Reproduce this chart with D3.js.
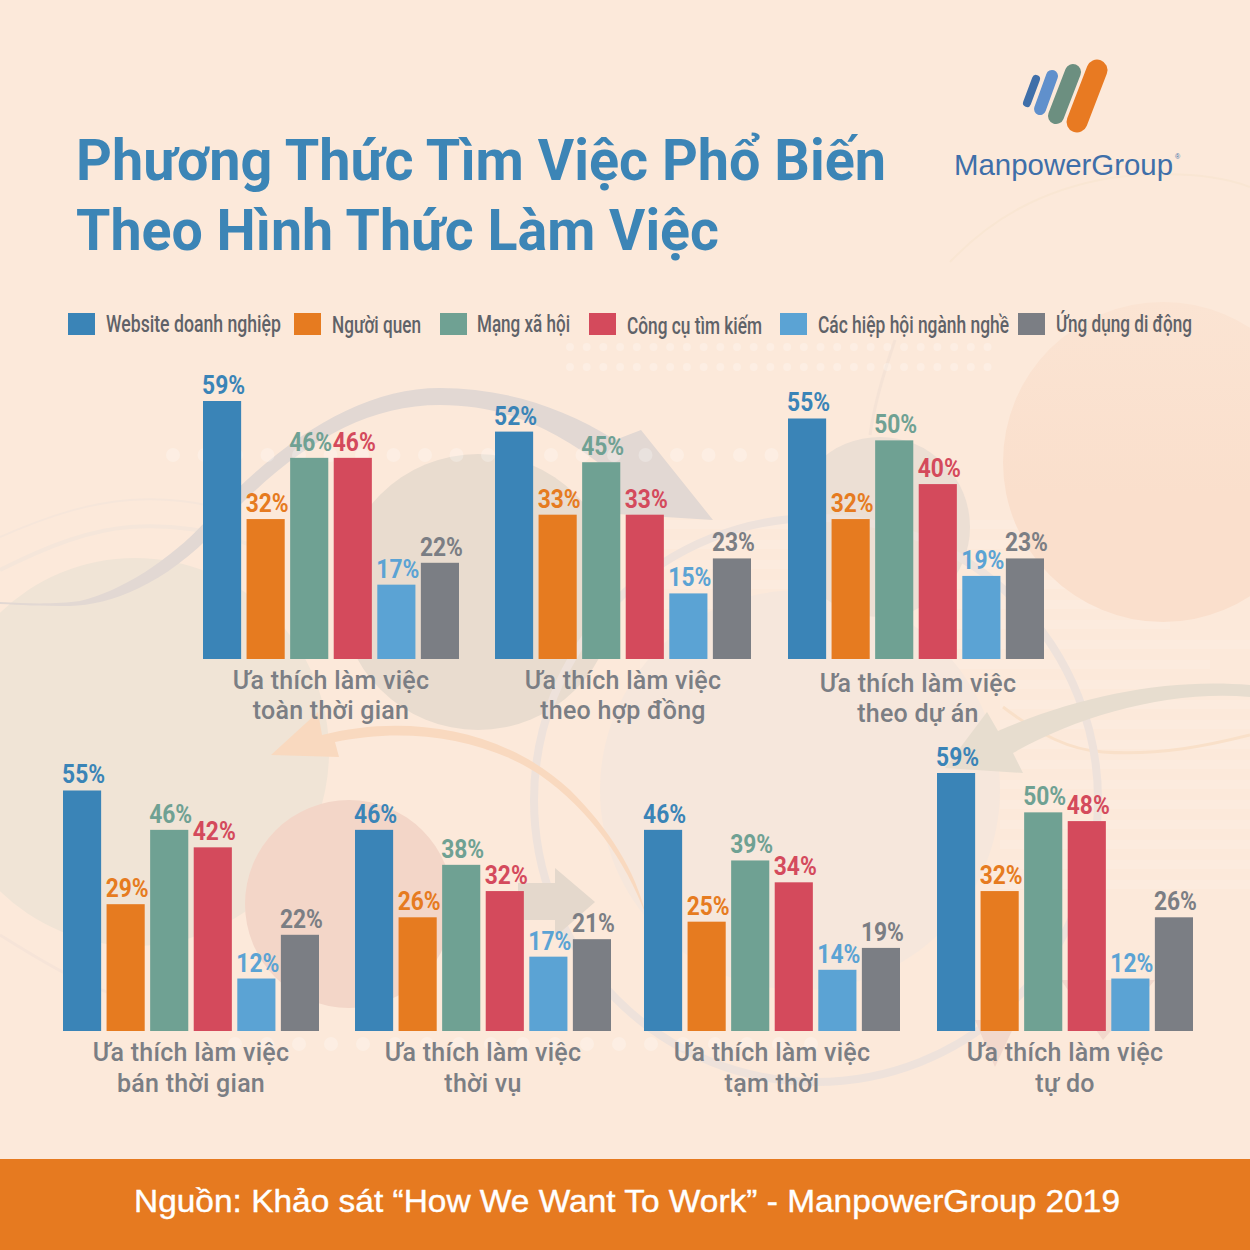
<!DOCTYPE html>
<html>
<head>
<meta charset="utf-8">
<script src="https://cdn.jsdelivr.net/npm/d3@7"></script>
<style>
  html, body { margin: 0; padding: 0; background: #fce9da; }
  svg { display: block; }
</style>
</head>
<body>
<div id="chart"></div>
<script>
var width = 1250
var height = 1250

var seriesNames = ['Website doanh nghiệp', 'Người quen', 'Mạng xã hội', 'Công cụ tìm kiếm', 'Các hiệp hội ngành nghề', 'Ứng dụng di động']
var seriesColors = ['#3a84b7', '#e67b20', '#6fa193', '#d44a5c', '#5ba3d4', '#7b7e84']

var fullTime = [59, 32, 46, 46, 17, 22]
var contract = [52, 33, 45, 33, 15, 23]
var project = [55, 32, 50, 40, 19, 23]
var partTime = [55, 29, 46, 42, 12, 22]
var seasonal = [46, 26, 38, 32, 17, 21]
var temporary = [46, 25, 39, 34, 14, 19]
var freelance = [59, 32, 50, 48, 12, 26]

var panelValues = [fullTime, contract, project, partTime, seasonal, temporary, freelance]
var panelFirstLine = 'Ưa thích làm việc'
var panelSecondLine = ['toàn thời gian', 'theo hợp đồng', 'theo dự án', 'bán thời gian', 'thời vụ', 'tạm thời', 'tự do']

// where each small chart sits
var panelLeft = [203, 495, 788, 63, 355, 644, 937]
var panelBase = [659, 659, 659, 1031, 1031, 1031, 1031]
var labelLineOne = [689, 689, 692, 1061, 1061, 1061, 1061]
var labelLineTwo = [719, 719, 722, 1092, 1092, 1092, 1092]
var labelShift = [0, 0, 2, 0, 0, 0, 0]

var legendBoxX = [68, 294, 440, 589, 780, 1018]
var legendTextX = [106, 332, 477, 627, 818, 1056]
var legendTextW = [175, 89, 93, 135, 191, 136]
var legendTextY = [332, 333, 332, 334, 333, 332]

var panelWidth = 256
var unitHeight = 258 / 59

var svg = d3.select('#chart')
  .append('svg')
  .attr('width', width)
  .attr('height', height)

var defs = svg.append('defs')
var sun = defs.append('linearGradient')
  .attr('id', 'sun')
  .attr('x1', 0).attr('y1', 0).attr('x2', 0).attr('y2', 1)
sun.append('stop').attr('offset', '0%').attr('stop-color', '#fbe4d3')
sun.append('stop').attr('offset', '60%').attr('stop-color', '#fadfcc')

svg.append('rect')
  .attr('width', width)
  .attr('height', height)
  .attr('fill', '#fce9da')

// background decoration
var deco = svg.append('g')

function circle(cx, cy, r, fill) {
  deco.append('circle').attr('cx', cx).attr('cy', cy).attr('r', r).attr('fill', fill)
}
function blob(d, fill) {
  deco.append('path').attr('d', d).attr('fill', fill)
}
function thread(d, color, w) {
  deco.append('path').attr('d', d).attr('fill', 'none').attr('stroke', color).attr('stroke-width', w)
}

// stripes go under the circles
d3.range(520, 900, 20).forEach(function(y, i) {
  deco.append('rect')
    .attr('x', y < 700 ? 640 : 1000)
    .attr('y', y)
    .attr('width', 610 - (i % 3) * 40)
    .attr('height', 9)
    .attr('fill', '#fff')
    .attr('opacity', 0.12)
})

circle(1163, 462, 160, 'url(#sun)')
circle(135, 752, 194, '#f0e4d6')
circle(800, 790, 200, '#f6e7dc')
circle(478, 592, 138, '#e9dccf')
circle(880, 527, 90, '#ecdfd4')
circle(349, 904, 104, '#f3d6c8')

thread('M0,537 C50,515 90,503 130,500 C160,498 185,500 210,506', '#f6e6da', 2)
thread('M0,570 C50,545 90,530 130,527 C170,524 215,530 250,545', '#f5e6da', 4)
thread('M0,935 C40,960 80,985 130,1000', '#f6e4d8', 3)
thread('M1003,707 C1040,735 1070,750 1103,752 C1160,756 1210,745 1250,735', '#f9e0c9', 3)
thread('M950,262 C990,220 1040,190 1110,178 C1160,172 1210,172 1250,187', '#f9e6d3', 2)
thread('M895,340 C885,370 875,400 870,435', '#f5e3d6', 3)

deco.append('circle')
  .attr('cx', 816).attr('cy', 800).attr('r', 282)
  .attr('fill', 'none').attr('stroke', '#eee2db').attr('stroke-width', 8)

// swoosh with arrow head, grey
blob('M0,602 C30,604 60,604 80,601 C120,592 170,560 205,522 C280,440 360,388 440,388 C500,388 560,405 615,440 L641,430 L713,520 L585,512 L608,470 C550,425 500,405 440,405 C360,405 290,450 218,528 C165,585 110,605 70,606 C40,606 20,605 0,604 Z', '#e2d8d3')
// orange arrow
blob('M271,755 L318,712 L322,735 C400,715 500,725 570,790 C610,830 635,870 646,915 C625,860 590,810 540,775 C480,735 400,728 335,742 L339,757 Z', '#f9d9bf')
// arrow coming from the right edge
blob('M1250,685 C1170,678 1080,695 998,731 L987,712 L945,768 L1023,773 L1013,753 C1080,715 1170,690 1250,697 Z', '#e7ddcf')
// block arrow
blob('M518,883 L555,883 L555,868 L595,902 L555,937 L555,920 L518,920 Z', '#e4d8cc')
// small pink arrow heads under the last chart
blob('M975,1020 L1017,1020 L995,1067 Z', '#f2d8cc')
blob('M1061,980 L1155,980 L1103,1040 Z', '#f2d8cc')

// dots
function dots(xs, y, r, op) {
  xs.forEach(function(x) {
    deco.append('circle').attr('cx', x).attr('cy', y).attr('r', r).attr('fill', '#fff').attr('opacity', op)
  })
}
dots(d3.range(173, 780, 31.5), 455, 7, 0.25)
dots(d3.range(235, 830, 32), 1044, 7, 0.25)
dots(d3.range(570, 990, 16.7), 347, 4, 0.25)
dots(d3.range(570, 990, 16.7), 367, 4, 0.25)

// title
var titleFont = 'Roboto, "Noto Sans", sans-serif'
svg.append('text')
  .attr('x', 76).attr('y', 180)
  .attr('textLength', 810).attr('lengthAdjust', 'spacingAndGlyphs')
  .attr('font-family', titleFont).attr('font-weight', 700).attr('font-size', 58)
  .attr('fill', '#3c85b6')
  .text('Phương Thức Tìm Việc Phổ Biến')
svg.append('text')
  .attr('x', 76).attr('y', 250)
  .attr('textLength', 643).attr('lengthAdjust', 'spacingAndGlyphs')
  .attr('font-family', titleFont).attr('font-weight', 700).attr('font-size', 58)
  .attr('fill', '#3c85b6')
  .text('Theo Hình Thức Làm Việc')

// logo
var logo = svg.append('g').attr('fill', 'none').attr('stroke-linecap', 'round')
logo.append('line').attr('x1', 1036).attr('y1', 79).attr('x2', 1027).attr('y2', 103).attr('stroke', '#3f6fa9').attr('stroke-width', 8)
logo.append('line').attr('x1', 1052).attr('y1', 76).attr('x2', 1040).attr('y2', 109).attr('stroke', '#6090cc').attr('stroke-width', 12)
logo.append('line').attr('x1', 1073).attr('y1', 72).attr('x2', 1056).attr('y2', 116).attr('stroke', '#6c8f80').attr('stroke-width', 16)
logo.append('line').attr('x1', 1097).attr('y1', 70).attr('x2', 1077).attr('y2', 122).attr('stroke', '#e87a22').attr('stroke-width', 21)

svg.append('text')
  .attr('x', 954).attr('y', 175)
  .attr('textLength', 219).attr('lengthAdjust', 'spacingAndGlyphs')
  .attr('font-family', '"Liberation Sans", sans-serif').attr('font-size', 30)
  .attr('fill', '#3f6fa9')
  .text('ManpowerGroup')
svg.append('text')
  .attr('x', 1175).attr('y', 159)
  .attr('font-family', '"Liberation Sans", sans-serif').attr('font-size', 7)
  .attr('fill', '#3f6fa9')
  .text('®')

// legend
var legend = svg.selectAll('.legend-item')
  .data(seriesNames)
  .enter().append('g')
  .attr('class', 'legend-item')

legend.append('rect')
  .attr('x', function(d, i) { return legendBoxX[i] })
  .attr('y', 313)
  .attr('width', 27)
  .attr('height', 22)
  .attr('fill', function(d, i) { return seriesColors[i] })

legend.append('text')
  .attr('x', function(d, i) { return legendTextX[i] })
  .attr('y', function(d, i) { return legendTextY[i] })
  .attr('textLength', function(d, i) { return legendTextW[i] })
  .attr('lengthAdjust', 'spacingAndGlyphs')
  .attr('font-family', titleFont)
  .attr('font-weight', 500)
  .attr('font-size', 23)
  .attr('fill', '#5f6268')
  .text(function(d) { return d })

// small charts
panelValues.forEach(function(values, p) {
  var x = d3.scaleBand()
    .domain(seriesNames)
    .range([panelLeft[p], panelLeft[p] + panelWidth])
    .paddingInner(0.125)

  var y = d3.scaleLinear()
    .domain([0, 59])
    .range([panelBase[p], panelBase[p] - unitHeight * 59])

  var rows = seriesNames.map(function(name, i) {
    return { name: name, value: values[i], color: seriesColors[i] }
  })

  var g = svg.append('g').attr('class', 'panel')

  g.selectAll('rect')
    .data(rows)
    .enter().append('rect')
    .attr('x', function(d) { return x(d.name) })
    .attr('y', function(d) { return y(d.value) })
    .attr('width', x.bandwidth())
    .attr('height', function(d) { return y(0) - y(d.value) })
    .attr('fill', function(d) { return d.color })

  g.selectAll('.value')
    .data(rows)
    .enter().append('text')
    .attr('class', 'value')
    .attr('x', function(d) { return x(d.name) + x.bandwidth() / 2 + 1.5 })
    .attr('y', function(d) { return y(d.value) - 7 })
    .attr('text-anchor', 'middle')
    .attr('textLength', 43)
    .attr('lengthAdjust', 'spacingAndGlyphs')
    .attr('font-family', titleFont)
    .attr('font-weight', 700)
    .attr('font-size', 25.5)
    .attr('fill', function(d) { return d.color })
    .text(function(d) { return d.value + '%' })

  var cx = panelLeft[p] + panelWidth / 2 + labelShift[p]
  g.append('text')
    .attr('x', cx).attr('y', labelLineOne[p])
    .attr('text-anchor', 'middle')
    .attr('font-family', titleFont).attr('font-weight', 500).attr('font-size', 25)
    .attr('letter-spacing', 0.25)
    .attr('fill', '#7b7e84')
    .text(panelFirstLine)
  g.append('text')
    .attr('x', cx).attr('y', labelLineTwo[p])
    .attr('text-anchor', 'middle')
    .attr('font-family', titleFont).attr('font-weight', 500).attr('font-size', 25)
    .attr('letter-spacing', 0.25)
    .attr('fill', '#7b7e84')
    .text(panelSecondLine[p])
})

// footer
svg.append('rect')
  .attr('x', 0).attr('y', 1159)
  .attr('width', width).attr('height', 91)
  .attr('fill', '#e67a20')
svg.append('text')
  .attr('x', 134).attr('y', 1212)
  .attr('textLength', 986).attr('lengthAdjust', 'spacingAndGlyphs')
  .attr('font-family', '"Liberation Sans", sans-serif')
  .attr('font-size', 32)
  .attr('fill', '#fff')
  .attr('stroke', '#fff')
  .attr('stroke-width', 0.4)
  .text('Nguồn: Khảo sát “How We Want To Work” - ManpowerGroup 2019')
</script>
</body>
</html>
